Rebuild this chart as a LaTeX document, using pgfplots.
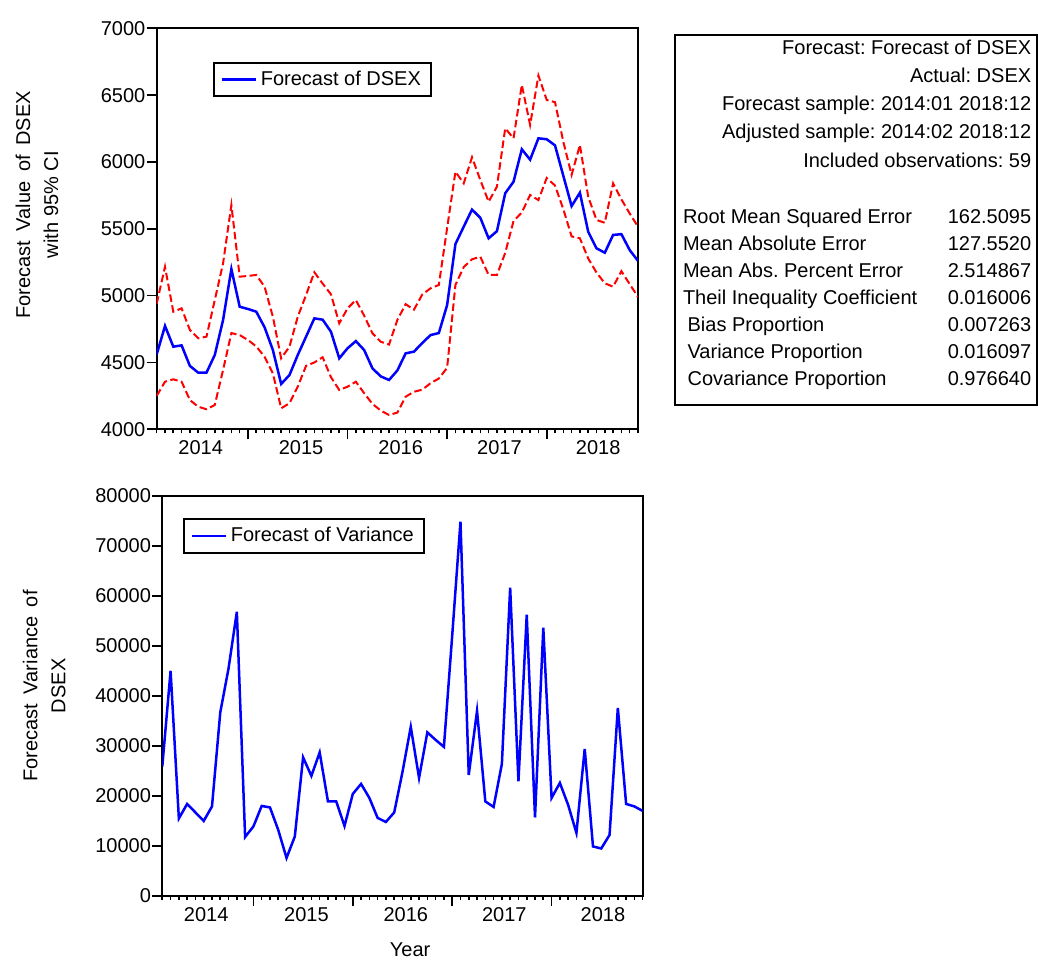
\documentclass[border=0pt]{standalone}
\usepackage{fontspec}
\setmainfont{Liberation Sans}
\usepackage{pgfplots}
\usepackage{pgfplotstable}
\pgfplotsset{compat=1.18}
\frenchspacing

\pgfplotstableread{
i f u l
0 4560 4940 4250
1 4773 5216 4356
2 4618 4880 4374
3 4628 4905 4356
4 4474 4743 4219
5 4424 4681 4169
6 4424 4693 4150
7 4556 4967 4182
8 4818 5242 4444
9 5199 5678 4720
10 4917 5142 4705
11 4900 5147 4668
12 4880 5155 4620
13 4763 5067 4543
14 4593 4842 4419
15 4339 4531 4157
16 4406 4618 4195
17 4556 4842 4319
18 4693 5005 4475
19 4830 5175 4500
20 4820 5090 4539
21 4730 5010 4390
22 4531 4793 4294
23 4606 4905 4319
24 4660 4967 4356
25 4593 4850 4270
26 4456 4718 4190
27 4396 4655 4140
28 4369 4634 4107
29 4440 4818 4125
30 4568 4936 4244
31 4581 4895 4281
32 4645 5008 4296
33 4705 5055 4345
34 4720 5080 4380
35 4930 5506 4460
36 5386 5927 5080
37 5516 5840 5214
38 5644 6035 5272
39 5582 5865 5291
40 5429 5703 5155
41 5482 5815 5155
42 5766 6252 5320
43 5852 6177 5558
44 6095 6576 5622
45 6017 6277 5753
46 6177 6647 5715
47 6170 6464 5880
48 6124 6447 5824
49 5897 6152 5647
50 5670 5903 5443
51 5770 6127 5429
52 5478 5740 5278
53 5354 5566 5173
54 5321 5545 5092
55 5454 5840 5067
56 5460 5720 5183
57 5341 5615 5086
58 5260 5516 4990
}\topdata

\pgfplotstableread{
i v
0 25900
1 45000
2 15500
3 18400
4 16700
5 15000
6 17900
7 36700
8 45500
9 56800
10 11800
11 13900
12 18000
13 17700
14 13200
15 7600
16 11900
17 27700
18 24000
19 28700
20 18900
21 18900
22 14000
23 20400
24 22400
25 19600
26 15600
27 14800
28 16700
29 24800
30 33800
31 23600
32 32700
33 31200
34 29800
35 52000
36 74800
37 24200
38 37000
39 18900
40 17800
41 26400
42 61600
43 22900
44 56200
45 15700
46 53600
47 19600
48 22600
49 18200
50 12600
51 29400
52 9900
53 9500
54 12200
55 37600
56 18400
57 17900
58 17000
}\vardata

\definecolor{evblue}{RGB}{0,0,255}
\definecolor{evred}{RGB}{255,0,0}

\begin{document}
\begin{tikzpicture}[font=\fontsize{10}{12}\selectfont]
\useasboundingbox (0,0) rectangle (519pt,479.5pt);
\pgfplotsset{
  evstyle/.style={
    scale only axis,
    xmin=0, xmax=58,
    axis line style={line width=1pt},
    tick align=outside,
    xtick pos=bottom, ytick pos=left,
    major tick length=5pt,
    minor tick length=2pt,
    every tick/.style={black, line width=0.8pt},
    xtick={11,23,35,47}, xticklabels={},
    minor xtick={0,...,58},
    extra x ticks={5.3,17.4,29.4,41.3,53.2},
    extra x tick labels={2014,2015,2016,2017,2018},
    extra x tick style={tick style={draw=none}},
    xticklabel style={inner ysep=0.5pt},
    yticklabel style={inner xsep=0.5pt},
    /pgf/number format/assume math mode=true,
    /pgf/number format/1000 sep={},
    scaled y ticks=false,
    legend cell align=left,
    legend image code/.code={\draw[##1] (0pt,0pt) -- (17pt,0pt);},
    legend style={draw=black, line width=1pt, font=\fontsize{10}{12}\selectfont, inner xsep=3pt, inner ysep=2pt},
  }
}

\begin{axis}[evstyle,
  at={(78.35pt,264.85pt)}, anchor=south west,
  width=240.65pt, height=200.5pt,
  ymin=4000, ymax=7000, ytick={4000,4500,...,7000},
  ylabel={Forecast\hspace{2pt} Value\hspace{2pt} of\hspace{2pt} DSEX\\with 95\% CI},
  ylabel style={align=center, font=\fontsize{10}{14}\selectfont, at={(axis description cs:-0.249,0.56)}, anchor=center},
  legend style={at={(axis description cs:0.1176,0.9167)}, anchor=north west}]
\addplot[evred, line width=1pt, dash pattern=on 3.75pt off 1.75pt, forget plot] table[x=i,y=u]{\topdata};
\addplot[evred, line width=1pt, dash pattern=on 3.75pt off 1.75pt, forget plot] table[x=i,y=l]{\topdata};
\addplot[evblue, line width=1.25pt] table[x=i,y=f]{\topdata};
\addlegendentry{Forecast of DSEX}
\end{axis}

\begin{axis}[evstyle,
  at={(81.15pt,31.5pt)}, anchor=south west,
  width=240.2pt, height=200.15pt,
  ymin=0, ymax=80000, ytick={0,10000,...,80000},
  ylabel={Forecast\hspace{2pt} Variance\hspace{2pt} of\\DSEX},
  ylabel style={align=center, font=\fontsize{10}{14}\selectfont, at={(axis description cs:-0.246,0.525)}, anchor=center},
  xlabel={Year},
  xlabel style={at={(axis description cs:0.516,-0.135)}, anchor=center},
  legend style={at={(axis description cs:0.0437,0.9435)}, anchor=north west}]
\addplot[evblue, line width=1.25pt] table[x=i,y=v]{\vardata};
\addlegendentry{Forecast of Variance}
\end{axis}

\draw[line width=1pt] (337.5pt,277pt) rectangle (518.35pt,462pt);
\begin{scope}[every node/.style={inner sep=0pt}]
\node[anchor=base east] at (515.8pt,452.25pt) {Forecast: Forecast of DSEX};
\node[anchor=base east] at (515.8pt,438.25pt) {Actual: DSEX};
\node[anchor=base east] at (515.8pt,424pt) {Forecast sample: 2014:01 2018:12};
\node[anchor=base east] at (515.8pt,410pt) {Adjusted sample: 2014:02 2018:12};
\node[anchor=base east] at (515.8pt,395.75pt) {Included observations: 59};
\node[anchor=base west] at (341.3pt,367.5pt) {Root Mean Squared Error};
\node[anchor=base west] at (341.3pt,354pt) {Mean Absolute Error};
\node[anchor=base west] at (341.3pt,340.5pt) {Mean Abs. Percent Error};
\node[anchor=base west] at (341.3pt,327pt) {Theil Inequality Coefficient};
\node[anchor=base west] at (343.6pt,313.5pt) {Bias Proportion};
\node[anchor=base west] at (343.6pt,300pt) {Variance Proportion};
\node[anchor=base west] at (343.6pt,286.5pt) {Covariance Proportion};
\node[anchor=base east] at (515.8pt,367.5pt) {162.5095};
\node[anchor=base east] at (515.8pt,354pt) {127.5520};
\node[anchor=base east] at (515.8pt,340.5pt) {2.514867};
\node[anchor=base east] at (515.8pt,327pt) {0.016006};
\node[anchor=base east] at (515.8pt,313.5pt) {0.007263};
\node[anchor=base east] at (515.8pt,300pt) {0.016097};
\node[anchor=base east] at (515.8pt,286.5pt) {0.976640};
\end{scope}
\end{tikzpicture}
\end{document}
